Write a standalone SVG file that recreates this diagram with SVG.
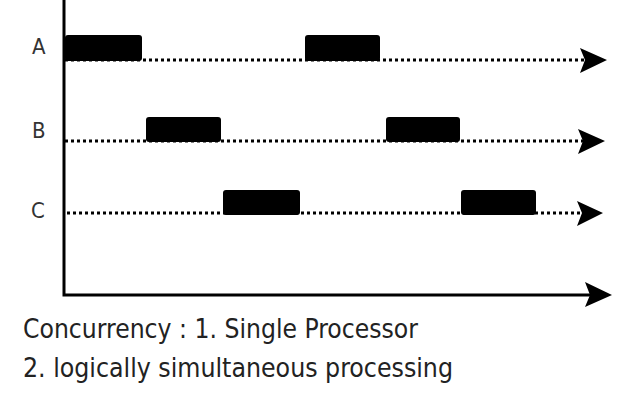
<svg xmlns="http://www.w3.org/2000/svg" width="638" height="412" viewBox="0 0 638 412">
<style>
.lbl{font-family:"DejaVu Sans","Liberation Sans",sans-serif;font-size:22px;font-stretch:condensed;fill:#333}
.cap{font-family:"DejaVu Sans","Liberation Sans",sans-serif;font-size:27px;font-stretch:condensed;fill:#222}
.dot{stroke:#000;stroke-width:3;stroke-dasharray:3 3;fill:none}
.blk{fill:#000}
.axis{stroke:#000;stroke-width:3;fill:none}
.ah{fill:#000}
</style>
<rect width="638" height="412" fill="#fff"/>
<g id="connectors">
<path class="axis" d="M64 0 V295 H590"/>
<path class="ah" d="M585 282 L612 295 L585 307 L590 295 Z"/>
<line class="dot" x1="65" y1="60" x2="585" y2="60"/>
<path class="ah" d="M580 48 L607 60 L580 73 L585 60 Z"/>
<line class="dot" x1="65" y1="141" x2="583" y2="141"/>
<path class="ah" d="M578 129 L605 141 L578 154 L583 141 Z"/>
<line class="dot" x1="67" y1="213" x2="582" y2="213"/>
<path class="ah" d="M577 201 L603 213 L577 226 L582 213 Z"/>
</g>
<g id="rowA">
<text class="lbl" x="32" y="54">A</text>
<rect class="blk" x="65" y="35" width="77" height="26" rx="3"/>
<rect class="blk" x="305" y="35" width="75" height="26" rx="3"/>
</g>
<g id="rowB">
<text class="lbl" x="32" y="138">B</text>
<rect class="blk" x="146" y="117" width="75" height="25" rx="3"/>
<rect class="blk" x="386" y="117" width="74" height="25" rx="3"/>
</g>
<g id="rowC">
<text class="lbl" x="31" y="218">C</text>
<rect class="blk" x="223" y="190" width="77" height="25" rx="3"/>
<rect class="blk" x="461" y="190" width="75" height="25" rx="3"/>
</g>
<g id="caption">
<text class="cap" x="23" y="338" textLength="395" lengthAdjust="spacingAndGlyphs">Concurrency : 1. Single Processor</text>
<text class="cap" x="23" y="377" textLength="430" lengthAdjust="spacingAndGlyphs">2. logically simultaneous processing</text>
</g>
</svg>
